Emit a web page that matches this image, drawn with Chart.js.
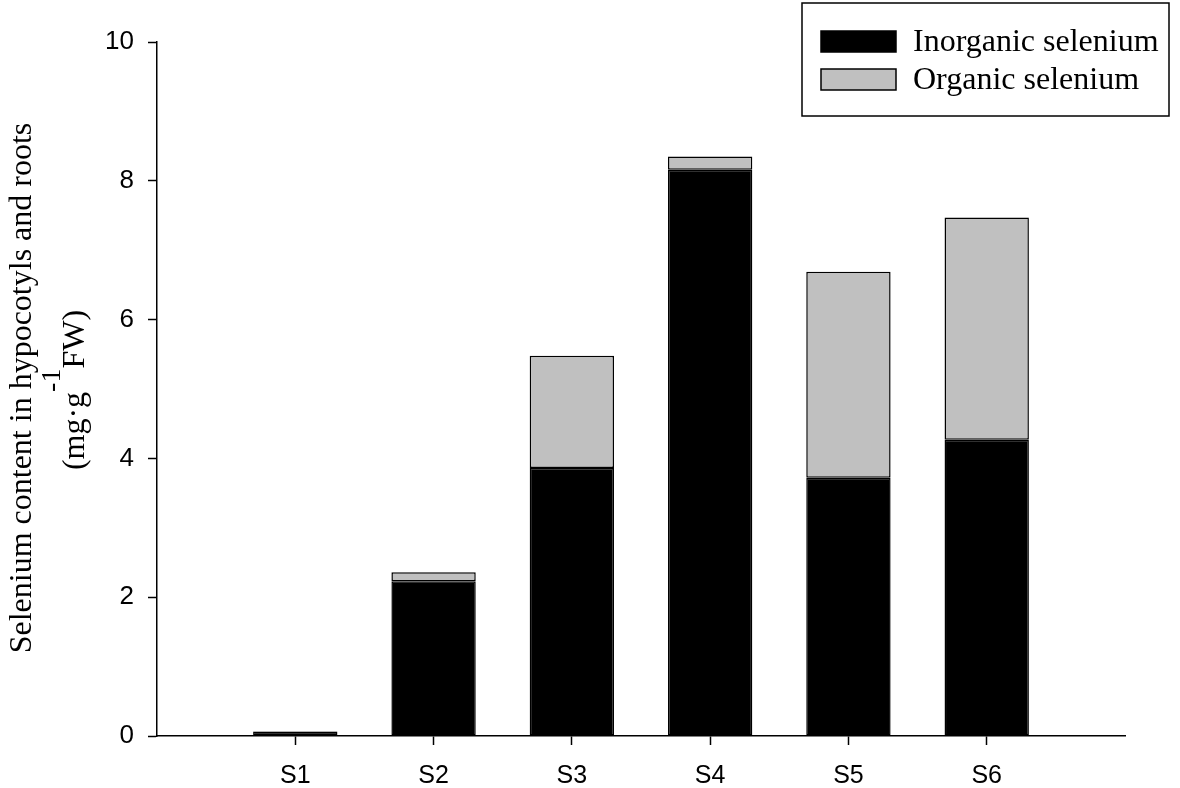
<!DOCTYPE html>
<html>
<head>
<meta charset="utf-8">
<script src="https://cdn.jsdelivr.net/npm/chart.js@4/dist/chart.umd.min.js"></script>
<style>
  html, body { margin: 0; padding: 0; background: #fff; }
  #wrap { width: 1180px; height: 788px; }
</style>
</head>
<body>
<div id="wrap"><canvas id="chart" width="1180" height="788"></canvas></div>
<script>
// values (mg·g-1 FW)
const categories = ['S1', 'S2', 'S3', 'S4', 'S5', 'S6'];
const inorganic = [0.06, 2.23, 3.86, 8.16, 3.72, 4.27];
const organic = [0.01, 0.13, 1.62, 0.19, 2.97, 3.20];
const yTicks = [0, 2, 4, 6, 8, 10];

// blank slot on each side so the bars sit one step in from the axis ends
const axisLabels = ['', ...categories, ''];
const pad = arr => [null, ...arr, null];

const serif = '"Liberation Serif", "Times New Roman", serif';
const sans = '"Liberation Sans", Arial, sans-serif';

// y axis title with a raised "-1"
const yTitle = {
  id: 'yTitle',
  afterDraw(chart) {
    const ctx = chart.ctx;
    const main = '32px ' + serif, supFont = '28px ' + serif;
    ctx.save();
    ctx.fillStyle = '#000';
    ctx.textBaseline = 'alphabetic';
    ctx.font = main;

    ctx.save();
    ctx.translate(31, 388);
    ctx.rotate(-Math.PI / 2);
    ctx.textAlign = 'center';
    ctx.fillText('Selenium content in hypocotyls and roots', 0, 0);
    ctx.restore();

    const a = '(mg·g', sup = '-1', b = 'FW)';
    const wa = ctx.measureText(a).width;
    const wb = ctx.measureText(b).width;
    ctx.font = supFont;
    const ws = ctx.measureText(sup).width;
    const total = wa + ws + wb;
    ctx.save();
    ctx.translate(84, 390);
    ctx.rotate(-Math.PI / 2);
    ctx.textAlign = 'left';
    let x = -total / 2;
    ctx.font = main;
    ctx.fillText(a, x, 0);
    x += wa;
    ctx.font = supFont;
    ctx.fillText(sup, x, -24);
    x += ws;
    ctx.font = main;
    ctx.fillText(b, x, 0);
    ctx.restore();
    ctx.restore();
  }
};

// boxed legend in the top right corner
const boxLegend = {
  id: 'boxLegend',
  afterDraw(chart) {
    const ctx = chart.ctx;
    ctx.save();
    ctx.lineWidth = 1.5;
    ctx.strokeStyle = '#000';
    ctx.strokeRect(802, 3, 367, 113);
    ctx.font = '32px ' + serif;
    ctx.textBaseline = 'middle';
    ctx.textAlign = 'left';
    chart.data.datasets.forEach((ds, i) => {
      const y = 31 + i * 38;
      ctx.fillStyle = ds.backgroundColor;
      ctx.fillRect(821, y, 75, 21);
      ctx.strokeRect(821, y, 75, 21);
      ctx.fillStyle = '#000';
      ctx.fillText(ds.label, 913, y + 12);
    });
    ctx.restore();
  }
};

new Chart(document.getElementById('chart'), {
  type: 'bar',
  data: {
    labels: axisLabels,
    datasets: [
      {
        label: 'Inorganic selenium',
        data: pad(inorganic),
        backgroundColor: '#000000',
        borderColor: '#000000',
        borderWidth: 1.5,
        borderSkipped: false
      },
      {
        label: 'Organic selenium',
        data: pad(organic),
        backgroundColor: '#c0c0c0',
        borderColor: '#000000',
        borderWidth: 1.5,
        borderSkipped: false
      }
    ]
  },
  options: {
    responsive: false,
    animation: false,
    layout: { padding: { left: 0, right: 55, top: 42, bottom: 0 } },
    datasets: { bar: { barPercentage: 0.61, categoryPercentage: 1 } },
    plugins: {
      legend: { display: false },
      tooltip: { enabled: false }
    },
    scales: {
      x: {
        stacked: true,
        offset: false,
        afterFit: s => { s.height = 52; },
        border: { display: true, color: '#000', width: 1.5 },
        grid: {
          offset: false,
          drawOnChartArea: false,
          drawTicks: true,
          tickLength: 9,
          tickWidth: 1.5,
          tickColor: c => (c.tick && axisLabels[c.index] ? '#000' : 'rgba(0,0,0,0)')
        },
        ticks: {
          color: '#000',
          font: { family: sans, size: 25 },
          padding: 16,
          maxRotation: 0,
          autoSkip: false
        }
      },
      y: {
        stacked: true,
        min: 0,
        max: 10,
        afterFit: s => { s.width = 157; },
        afterBuildTicks: s => { s.ticks = yTicks.map(v => ({ value: v })); },
        border: { display: true, color: '#000', width: 1.5 },
        grid: {
          drawOnChartArea: false,
          drawTicks: true,
          tickLength: 9,
          tickWidth: 1.5,
          tickColor: '#000'
        },
        ticks: {
          color: '#000',
          font: { family: sans, size: 26 },
          padding: 14
        }
      }
    }
  },
  plugins: [yTitle, boxLegend]
});
</script>
</body>
</html>
